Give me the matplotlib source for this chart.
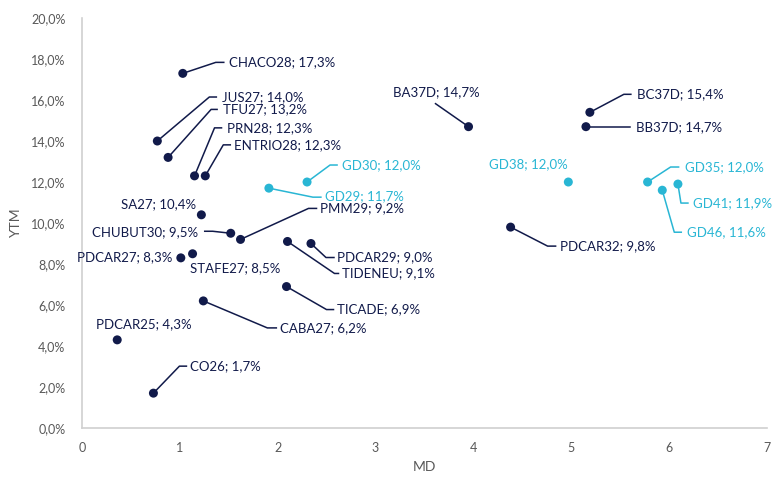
import matplotlib
matplotlib.use('Agg')
from matplotlib import pyplot as plt
import matplotlib.transforms as mtransforms

plt.rcParams['font.family'] = ['Lato', 'DejaVu Sans']

# bonds: name, modified duration, ytm (%), label text
names = ['CHACO28', 'JUS27', 'TFU27', 'PRN28', 'ENTRIO28', 'SA27', 'CHUBUT30',
         'PMM29', 'PDCAR27', 'STAFE27', 'TIDENEU', 'PDCAR29', 'TICADE', 'CABA27',
         'PDCAR25', 'CO26', 'BA37D', 'BC37D', 'BB37D', 'PDCAR32',
         'GD30', 'GD29', 'GD38', 'GD35', 'GD41', 'GD46']
md = [1.03, 0.77, 0.88, 1.15, 1.26, 1.22, 1.52,
      1.62, 1.01, 1.13, 2.10, 2.34, 2.09, 1.24,
      0.36, 0.73, 3.95, 5.19, 5.15, 4.38,
      2.30, 1.91, 4.97, 5.78, 6.09, 5.93]
ytm = [17.3, 14.0, 13.2, 12.3, 12.3, 10.4, 9.5,
       9.2, 8.3, 8.5, 9.1, 9.0, 6.9, 6.2,
       4.3, 1.7, 14.7, 15.4, 14.7, 9.8,
       12.0, 11.7, 12.0, 12.0, 11.9, 11.6]
labels = ['CHACO28; 17,3%', 'JUS27; 14,0%', 'TFU27; 13,2%', 'PRN28; 12,3%',
          'ENTRIO28; 12,3%', 'SA27; 10,4%', 'CHUBUT30; 9,5%', 'PMM29; 9,2%',
          'PDCAR27; 8,3%', 'STAFE27; 8,5%', 'TIDENEU; 9,1%', 'PDCAR29; 9,0%',
          'TICADE; 6,9%', 'CABA27; 6,2%', 'PDCAR25; 4,3%', 'CO26; 1,7%',
          'BA37D; 14,7%', 'BC37D; 15,4%', 'BB37D; 14,7%', 'PDCAR32; 9,8%',
          'GD30; 12,0%', 'GD29; 11,7%', 'GD38; 12,0%', 'GD35; 12,0%',
          'GD41; 11,9%', 'GD46, 11,6%']
hard_dollar = ['GD30', 'GD29', 'GD38', 'GD35', 'GD41', 'GD46']

# label placement in pixels from the dot: text (dx, dy, ha), leader path
place = {
    'CHACO28': ((46, 11, 'left'), [(0, 0), (33, 11), (41, 11)]),
    'JUS27': ((65, 44, 'left'), [(0, 0), (52, 44), (59, 44)]),
    'TFU27': ((55, 48, 'left'), [(0, 0), (43, 48), (49, 48)]),
    'PRN28': ((32, 48, 'left'), [(0, 0), (20, 48), (27, 48)]),
    'ENTRIO28': ((29, 31, 'left'), [(0, 0), (18, 31), (25, 31)]),
    'SA27': ((-5, 11, 'right'), None),
    'CHUBUT30': ((-33, 1, 'right'), [(0, 0), (-18, 2), (-26, 2)]),
    'PMM29': ((79, 31, 'left'), [(0, 0), (68, 31), (76, 31)]),
    'PDCAR27': ((-8, 1, 'right'), None),
    'STAFE27': ((-3, -14, 'left'), None),
    'TIDENEU': ((55, -32, 'left'), [(0, 0), (47, -32), (51, -32)]),
    'PDCAR29': ((26, -14, 'left'), [(0, 0), (15, -14), (23, -14)]),
    'TICADE': ((50, -23, 'left'), [(0, 0), (40, -23), (47, -23)]),
    'CABA27': ((77, -27, 'left'), [(0, 0), (64, -27), (73, -27)]),
    'PDCAR25': ((-21, 16, 'left'), None),
    'CO26': ((37, 27, 'left'), [(0, 0), (26, 27), (33, 27)]),
    'BA37D': ((-76, 35, 'left'), [(0, 0), (-33, 23)]),
    'BC37D': ((47, 18, 'left'), [(0, 0), (34, 18), (41, 18)]),
    'BB37D': ((50, 0, 'left'), [(0, 0), (44, 0)]),
    'PDCAR32': ((49, -19, 'left'), [(0, 0), (37, -19), (45, -19)]),
    'GD30': ((35, 17, 'left'), [(0, 0), (23, 17), (30, 17)]),
    'GD29': ((56, -8, 'left'), [(0, 0), (44, -9), (52, -9)]),
    'GD38': ((-1, 18, 'right'), None),
    'GD35': ((37, 15, 'left'), [(0, 0), (23, 15), (31, 15)]),
    'GD41': ((15, -19, 'left'), [(0, 0), (3, -19), (10, -19)]),
    'GD46': ((25, -42, 'left'), [(0, 0), (12, -42), (19, -42)]),
}

navy = '#111a4a'
cyan = '#29b6d4'
grey = '#595959'

fig = plt.figure(figsize=(7.72, 4.78), dpi=100)
ax = fig.add_axes([0.1062, 0.1046, 0.8873, 0.8577])

colors = [cyan if n in hard_dollar else navy for n in names]
ax.scatter(md, ytm, s=42, c=colors, zorder=3, linewidths=0)

ax.set_xlim(0, 7)
ax.set_ylim(0, 20)
ax.set_xticks(range(8))
ax.set_yticks(range(0, 21, 2))
ax.set_yticklabels([f'{v:.1f}%'.replace('.', ',') for v in range(0, 21, 2)])
ax.tick_params(length=0, labelsize=9, colors=grey)
ax.tick_params(axis='x', pad=10)
ax.tick_params(axis='y', pad=12)
for side in ['top', 'right']:
    ax.spines[side].set_visible(False)
for side in ['left', 'bottom']:
    ax.spines[side].set_color('#d0d0d0')
    ax.spines[side].set_linewidth(1.2)

ax.set_xlabel('MD', fontsize=10, color=grey, labelpad=5)
ax.set_ylabel('YTM', fontsize=10, color=grey)
ax.yaxis.set_label_coords(-0.087, 0.5)

px = mtransforms.Affine2D()  # offsets in pixels
for n, x, y, lab, col in zip(names, md, ytm, labels, colors):
    (dx, dy, ha), path = place[n]
    tr = px + mtransforms.ScaledTranslation(x, y, ax.transData)
    if path:
        ax.plot([p[0] for p in path], [p[1] for p in path], transform=tr,
                color=col, lw=1.1, zorder=2, clip_on=False)
    ax.text(dx, dy, lab, transform=tr, ha=ha, va='center', color=col,
            fontsize=9.5)

fig.savefig('out.png', dpi=100)
